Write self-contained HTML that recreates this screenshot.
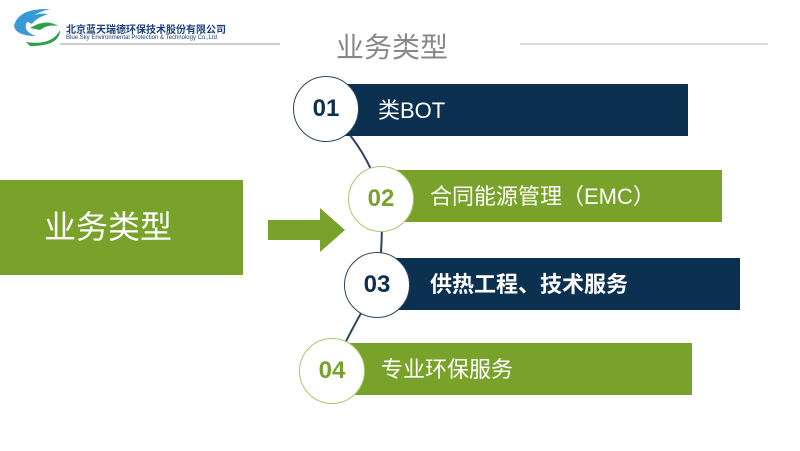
<!DOCTYPE html><html><head><meta charset="utf-8"><style>
body{margin:0;width:800px;height:451px;background:#fff;overflow:hidden;position:relative;font-family:"Liberation Sans","Noto Sans CJK SC",sans-serif}
.a{position:absolute}
.bar{position:absolute;color:#fff;font-size:22px;line-height:54px;height:52px}
.c{position:absolute;width:64px;height:64px;border-radius:50%;background:#fff;text-align:center;line-height:64px;font-size:24px;font-weight:bold}
</style></head><body>
<svg class="a" style="left:0;top:0" width="800" height="451">
<path d="M14 26 Q18 8 50 9 Q30 14 26 24 Q24 32 36 36 Q16 36 14 26Z" fill="#3a9ad8"/>
<path d="M24 20 Q36 12 48 14 Q36 18 32 24Z" fill="#3a9ad8"/>
<path d="M30 28 Q46 18 58 26 Q48 24 40 30Z" fill="#2aa14a"/>
<path d="M26 42 Q52 46 60 30 Q60 46 30 46Z" fill="#2aa14a"/>
<line x1="60" y1="44" x2="280" y2="44" stroke="#999" stroke-width="1"/>
<line x1="520" y1="44" x2="768" y2="44" stroke="#bbb" stroke-width="1"/>
<path d="M326 109 Q370 150 381 199 Q384 245 377 286 Q350 330 332 371" fill="none" stroke="#2b4660" stroke-width="2"/>
<polygon points="268,220 320,220 320,208 345,230 320,252 320,240 268,240" fill="#78a22a"/>
</svg>
<div class="a" style="left:66px;top:21px;font-size:10px;font-weight:bold;color:#1a3f7a">北京蓝天瑞德环保技术股份有限公司</div>
<div class="a" style="left:66px;top:35px;font-size:6px;color:#1a3f7a">Blue Sky Environmental Protection &amp; Technology Co.,Ltd</div>
<div class="a" style="left:336px;top:26px;font-size:28px;color:#888">业务类型</div>
<div class="a" style="left:0;top:180px;width:243px;height:95px;background:#78a22a;color:#fff;font-size:32px;line-height:95px;padding-left:44px;box-sizing:border-box">业务类型</div>
<div class="bar" style="left:320px;top:84px;width:368px;background:#0c3050;padding-left:58px;box-sizing:border-box">类BOT</div>
<div class="bar" style="left:380px;top:170px;width:342px;background:#78a22a;padding-left:50px;box-sizing:border-box">合同能源管理（EMC）</div>
<div class="bar" style="left:380px;top:258px;width:360px;background:#0c3050;padding-left:50px;box-sizing:border-box;font-weight:bold">供热工程、技术服务</div>
<div class="bar" style="left:335px;top:343px;width:357px;background:#78a22a;padding-left:46px;box-sizing:border-box">专业环保服务</div>
<div class="c" style="left:293px;top:76px;border:1.5px solid #2b4660;color:#0c3050">01</div>
<div class="c" style="left:348px;top:166px;border:1.5px solid #a8c870;color:#78a22a">02</div>
<div class="c" style="left:344px;top:252px;border:1.5px solid #2b4660;color:#0c3050">03</div>
<div class="c" style="left:299px;top:338px;border:1.5px solid #a8c870;color:#78a22a">04</div>
</body></html>
